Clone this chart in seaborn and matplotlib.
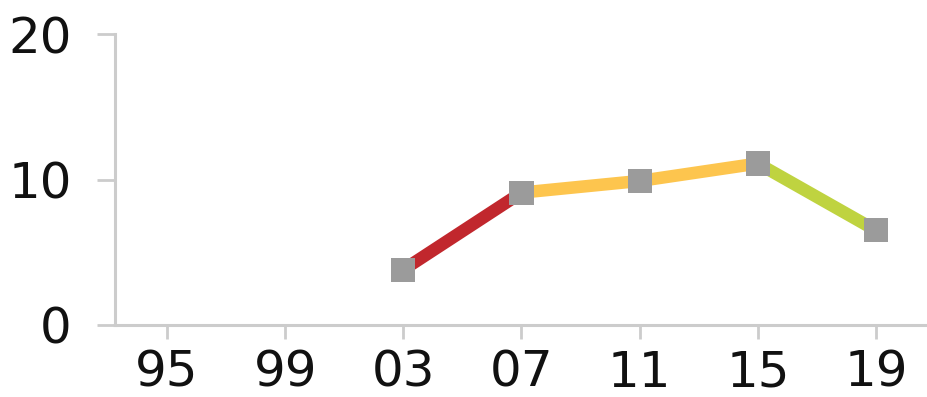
import numpy as np
import pandas as pd
import matplotlib
matplotlib.use("Agg")
import matplotlib.pyplot as plt
import seaborn as sns

years = ["95", "99", "03", "07", "11", "15", "19"]
values = [np.nan, np.nan, 3.8, 9.1, 9.9, 11.1, 6.5]
# each segment runs between two consecutive survey years
segment_ends = [("03", "07"), ("07", "15"), ("15", "19")]
segment_colors = ["#c1272d", "#fdc54e", "#bfd340"]
marker_color = "#9b9b9b"
axis_color = "#cccccc"

sns.set_theme(style="white")
plt.rcParams["font.family"] = ["DejaVu Sans"]

pos = {y: i for i, y in enumerate(years)}
rows = []
for k, (a, b) in enumerate(segment_ends):
    for y in years[pos[a]:pos[b] + 1]:
        rows.append({"x": pos[y], "value": values[pos[y]], "seg": k})
seg_df = pd.DataFrame(rows)
pts = pd.DataFrame({"x": range(len(years)), "value": values}).dropna()

fig = plt.figure(figsize=(9.28, 3.97), dpi=100)
ax = fig.add_axes([115 / 928, 72 / 397, 1 - 115 / 928, (325 - 34) / 397])

sns.lineplot(data=seg_df, x="x", y="value", hue="seg", palette=segment_colors,
             linewidth=9, legend=False, ax=ax, estimator=None, sort=False,
             solid_capstyle="butt")
sns.scatterplot(data=pts, x="x", y="value", marker="s", s=300, color=marker_color,
                edgecolor="none", linewidth=0, ax=ax, zorder=5)

ax.set_xlim(-0.44, 6.44)
ax.set_ylim(0, 20)
ax.set_xticks(range(len(years)))
ax.set_xticklabels(years)
ax.set_yticks([0, 10, 20])
ax.set_xlabel("")
ax.set_ylabel("")

for side in ["top", "right"]:
    ax.spines[side].set_visible(False)
for side in ["left", "bottom"]:
    ax.spines[side].set_color(axis_color)
    ax.spines[side].set_linewidth(2.2)

ax.tick_params(axis="y", length=13, width=2, color=axis_color, labelsize=36,
               pad=18, left=True, labelcolor="#111111")
ax.tick_params(axis="x", length=10, width=2, color=axis_color, labelsize=36,
               pad=7, bottom=True, labelcolor="#111111")

fig.savefig("out.png", dpi=100)
